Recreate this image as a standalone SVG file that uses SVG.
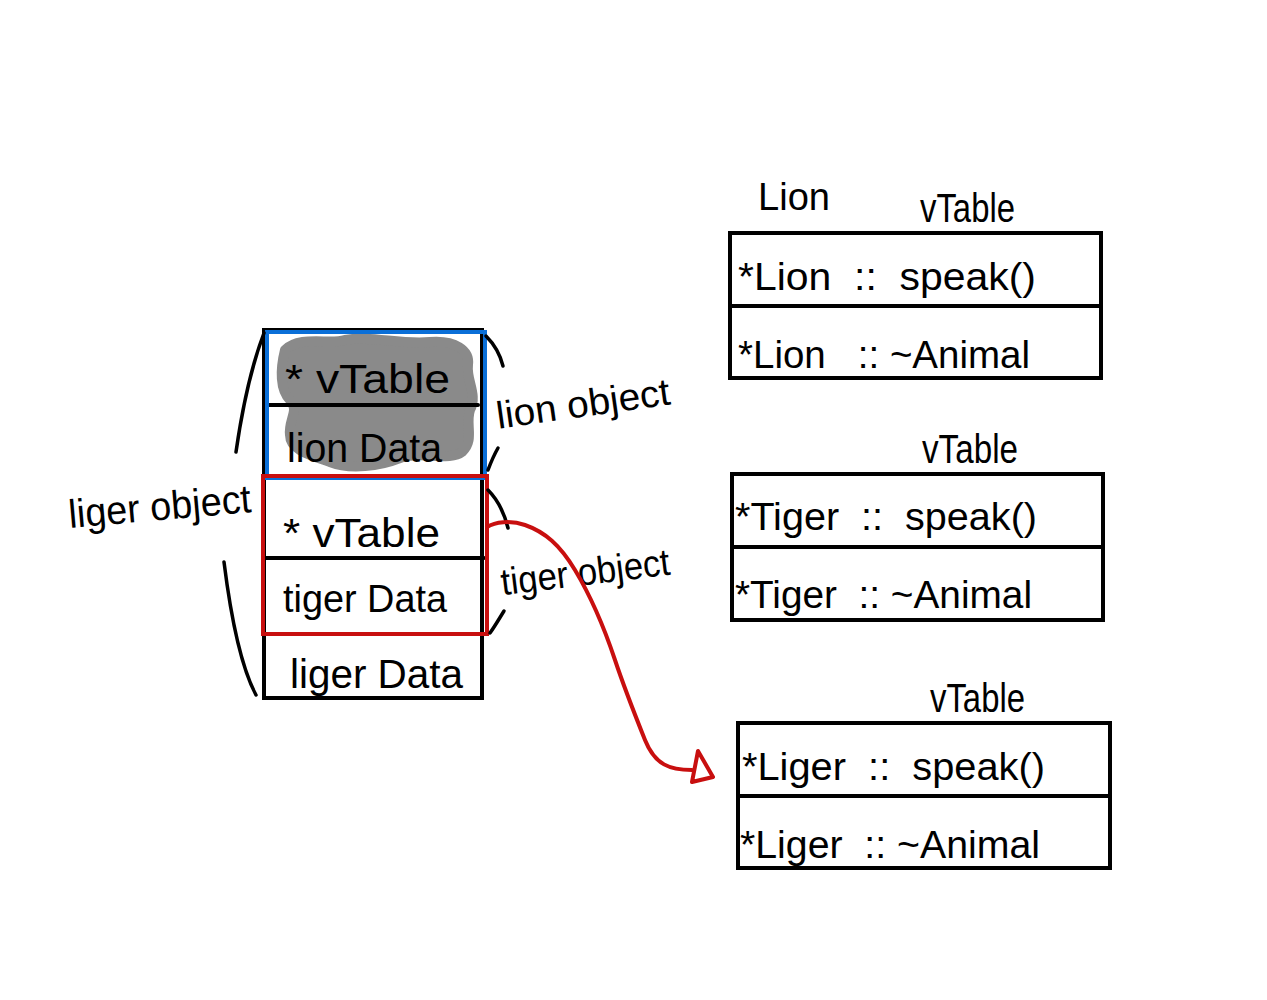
<svg xmlns="http://www.w3.org/2000/svg" width="1267" height="1000" viewBox="0 0 1267 1000">
<style>
.t{font-family:"Liberation Sans Narrow","Liberation Sans",sans-serif;fill:#000}
.box{fill:none;stroke:#000;stroke-width:4}
.ln{fill:none;stroke:#000;stroke-width:4;stroke-linecap:round}
.hl{fill:none;stroke:#000;stroke-width:3.5;stroke-linecap:round}
</style>
<rect width="1267" height="1000" fill="#fff"/>

<g id="gray-blob">
<path d="M285,350 C300,335 330,345 345,340 C370,335 400,345 430,342 C455,340 470,350 468,365 C466,380 478,395 470,410 C465,425 475,440 462,452 C450,462 420,450 400,458 C380,466 350,470 330,462 C310,455 290,450 290,435 C288,420 300,410 290,400 C280,390 280,370 285,350 Z" fill="#8a8a8a" stroke="#8a8a8a" stroke-width="10" stroke-linejoin="round"/>
</g>

<g id="liger-object">
<rect x="264" y="330" width="218" height="368" class="box"/>
<text class="t" x="290" y="688" font-size="40" textLength="173" lengthAdjust="spacingAndGlyphs">liger Data</text>
</g>

<g id="lion-object">
<line x1="268" y1="405" x2="478" y2="405" class="ln"/>
<rect x="267" y="332" width="218" height="146" fill="none" stroke="#0a6fd8" stroke-width="4"/>
<text class="t" x="285" y="393" font-size="40" textLength="165" lengthAdjust="spacingAndGlyphs">* vTable</text>
<text class="t" x="287" y="462" font-size="40" textLength="155" lengthAdjust="spacingAndGlyphs">lion Data</text>
</g>

<g id="tiger-object">
<line x1="266" y1="558" x2="484" y2="558" class="ln"/>
<rect x="263" y="476" width="224" height="158" fill="none" stroke="#c80f0f" stroke-width="4"/>
<text class="t" x="283" y="547" font-size="40" textLength="157" lengthAdjust="spacingAndGlyphs">* vTable</text>
<text class="t" x="283" y="612" font-size="38" textLength="164" lengthAdjust="spacingAndGlyphs">tiger Data</text>
</g>

<g id="brackets">
<path d="M264,333 C250,370 242,410 236,452" class="hl"/>
<path d="M224,562 C230,610 240,665 256,695" class="hl"/>
<path d="M486,336 C494,344 500,354 503,366" class="hl"/>
<path d="M488,470 C491,462 494,455 498,448" class="hl"/>
<path d="M488,490 C498,500 504,512 508,528" class="hl"/>
<path d="M490,633 C495,626 499,619 504,611" class="hl"/>
<text class="t" x="68" y="520" font-size="40" textLength="183" lengthAdjust="spacingAndGlyphs" transform="rotate(-5 160 505)">liger object</text>
<text class="t" x="495" y="417" font-size="38" textLength="175" lengthAdjust="spacingAndGlyphs" transform="rotate(-8 580 400)">lion object</text>
<text class="t" x="500" y="585" font-size="38" textLength="170" lengthAdjust="spacingAndGlyphs" transform="rotate(-7 585 570)">tiger object</text>
</g>

<g id="lion-vtable">
<text class="t" x="758" y="210" font-size="38" textLength="72" lengthAdjust="spacingAndGlyphs">Lion</text>
<text class="t" x="920" y="222" font-size="40" textLength="95" lengthAdjust="spacingAndGlyphs">vTable</text>
<rect x="730" y="233" width="371" height="145" class="box"/>
<line x1="730" y1="306" x2="1101" y2="306" class="ln"/>
<text class="t" x="738" y="290" font-size="38" textLength="298" lengthAdjust="spacingAndGlyphs" xml:space="preserve">*Lion  ::  speak()</text>
<text class="t" x="738" y="368" font-size="38" textLength="292" lengthAdjust="spacingAndGlyphs" xml:space="preserve">*Lion   :: ~Animal</text>
</g>

<g id="tiger-vtable">
<text class="t" x="922" y="463" font-size="40" textLength="96" lengthAdjust="spacingAndGlyphs">vTable</text>
<rect x="732" y="474" width="371" height="146" class="box"/>
<line x1="732" y1="547" x2="1103" y2="547" class="ln"/>
<text class="t" x="735" y="530" font-size="38" textLength="302" lengthAdjust="spacingAndGlyphs" xml:space="preserve">*Tiger  ::  speak()</text>
<text class="t" x="735" y="608" font-size="38" textLength="297" lengthAdjust="spacingAndGlyphs" xml:space="preserve">*Tiger  :: ~Animal</text>
</g>

<g id="liger-vtable">
<text class="t" x="930" y="712" font-size="40" textLength="95" lengthAdjust="spacingAndGlyphs">vTable</text>
<rect x="738" y="723" width="372" height="145" class="box"/>
<line x1="738" y1="796" x2="1110" y2="796" class="ln"/>
<text class="t" x="742" y="780" font-size="38" textLength="303" lengthAdjust="spacingAndGlyphs" xml:space="preserve">*Liger  ::  speak()</text>
<text class="t" x="740" y="858" font-size="38" textLength="300" lengthAdjust="spacingAndGlyphs" xml:space="preserve">*Liger  :: ~Animal</text>
</g>

<g id="connectors">
<path d="M487,527 C495,522 510,520 525,525 C545,532 560,545 575,570 C590,595 605,630 615,660 C625,690 635,715 645,740 C655,765 670,770 692,770" fill="none" stroke="#c80f0f" stroke-width="4" stroke-linecap="round"/>
<path d="M698,751 L713,777 L692,782 Z" fill="none" stroke="#c80f0f" stroke-width="4" stroke-linejoin="round"/>
</g>
</svg>
